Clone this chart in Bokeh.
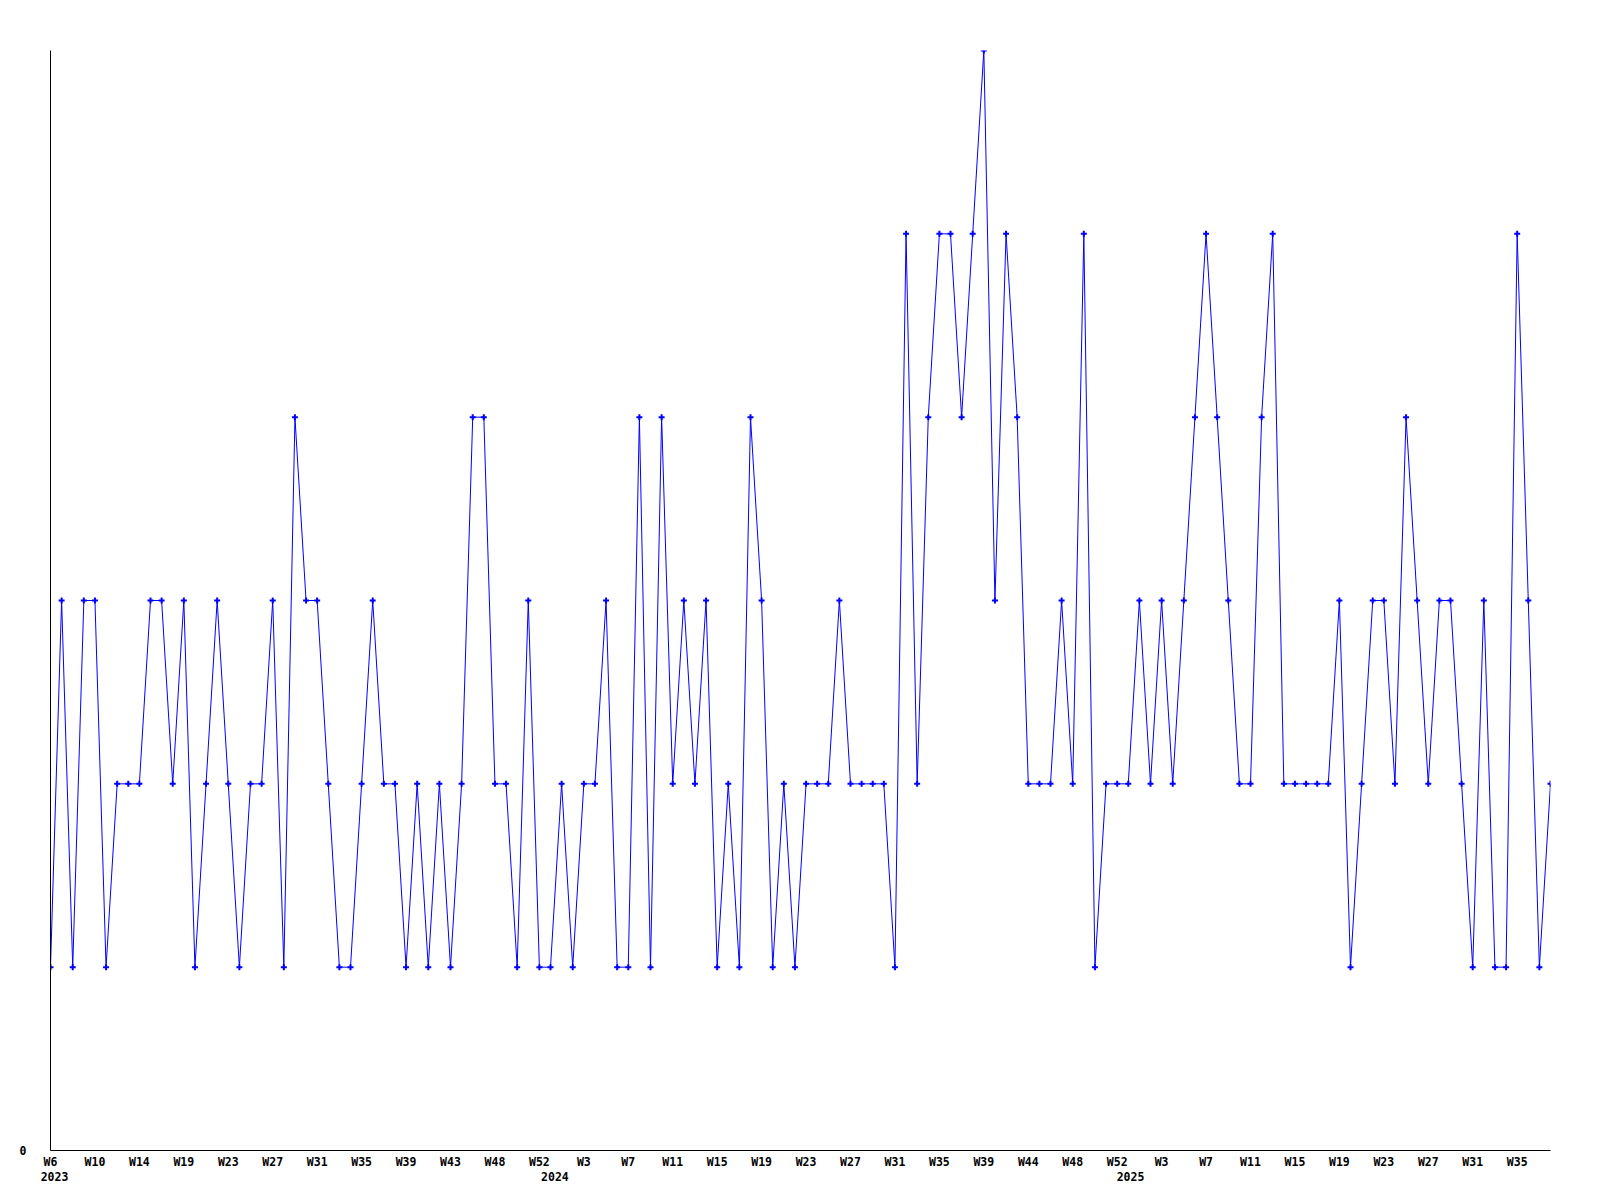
from bokeh.plotting import figure
from bokeh.models import Range1d, FixedTicker, LinearAxis, ColumnDataSource
from bokeh.embed import file_html
from bokeh.resources import INLINE

# Weekly values, 2023 W6 .. 2025 W37
values = [
    1, 3, 1, 3, 3, 1, 2, 2, 2, 3,
    3, 2, 3, 1, 2, 3, 2, 1, 2, 2,
    3, 1, 4, 3, 3, 2, 1, 1, 2, 3,
    2, 2, 1, 2, 1, 2, 1, 2, 4, 4,
    2, 2, 1, 3, 1, 1, 2, 1, 2, 2,
    3, 1, 1, 4, 1, 4, 2, 3, 2, 3,
    1, 2, 1, 4, 3, 1, 2, 1, 2, 2,
    2, 3, 2, 2, 2, 2, 1, 5, 2, 4,
    5, 5, 4, 5, 6, 3, 5, 4, 2, 2,
    2, 3, 2, 5, 1, 2, 2, 2, 3, 2,
    3, 2, 3, 4, 5, 4, 3, 2, 2, 4,
    5, 2, 2, 2, 2, 2, 3, 1, 2, 3,
    3, 2, 4, 3, 2, 3, 3, 2, 1, 3,
    1, 1, 5, 3, 1, 2,
]
week_index = list(range(len(values)))

week_tick_labels = ["W6", "W10", "W14", "W19", "W23", "W27", "W31", "W35", "W39", "W43",
                    "W48", "W52", "W3", "W7", "W11", "W15", "W19", "W23", "W27", "W31",
                    "W35", "W39", "W44", "W48", "W52", "W3", "W7", "W11", "W15", "W19",
                    "W23", "W27", "W31", "W35"]
year_labels = ["2023", "2024", "2025"]
year_positions = [0.36, 45.4, 97.2]

FONT = "DejaVu Sans Mono"
FSIZE = "11.5px"

src = ColumnDataSource(dict(x=week_index, y=values))

p = figure(frame_width=1500, frame_height=1100,
           min_border_left=50, min_border_top=50, min_border_right=30, min_border_bottom=40,
           x_range=Range1d(0, len(values) - 1), y_range=Range1d(0, 6),
           output_backend="svg", toolbar_location=None, tools="")
p.outline_line_color = None
p.xgrid.visible = False
p.ygrid.visible = False
p.background_fill_color = "white"
p.border_fill_color = "white"

p.line("x", "y", source=src, line_color="#0000ff", line_width=1)
p.scatter("x", "y", source=src, marker="cross", size=6, line_width=2, line_color="#0000ff")

# week axis
xa = p.xaxis[0]
week_ticks = [4 * k for k in range(len(week_tick_labels))]
xa.ticker = FixedTicker(ticks=week_ticks)
xa.major_label_overrides = {t: lab for t, lab in zip(week_ticks, week_tick_labels)}
xa.major_tick_out = 0
xa.major_tick_in = 0
xa.minor_tick_out = 0
xa.minor_tick_in = 0
xa.major_label_standoff = 4
xa.axis_line_color = "black"
xa.axis_line_width = 1
xa.major_label_text_font = FONT
xa.major_label_text_font_style = "bold"
xa.major_label_text_font_size = FSIZE
xa.major_label_text_color = "black"

# year axis
ya2 = LinearAxis(ticker=FixedTicker(ticks=year_positions))
ya2.major_label_overrides = {t: lab for t, lab in zip(year_positions, year_labels)}
ya2.axis_line_color = None
ya2.major_tick_out = 0
ya2.major_tick_in = 0
ya2.minor_tick_out = 0
ya2.minor_tick_in = 0
ya2.major_label_standoff = 0
ya2.major_label_text_font = FONT
ya2.major_label_text_font_style = "bold"
ya2.major_label_text_font_size = FSIZE
ya2.major_label_text_color = "black"
p.add_layout(ya2, "below")

# y axis
yax = p.yaxis[0]
yax.ticker = FixedTicker(ticks=[0])
yax.major_tick_out = 0
yax.major_tick_in = 0
yax.minor_tick_out = 0
yax.minor_tick_in = 0
yax.major_label_standoff = 24
yax.axis_line_color = "black"
yax.axis_line_width = 1
yax.major_label_text_font = FONT
yax.major_label_text_font_style = "bold"
yax.major_label_text_font_size = FSIZE
yax.major_label_text_color = "black"

open("out.html", "w").write(file_html(p, INLINE))
